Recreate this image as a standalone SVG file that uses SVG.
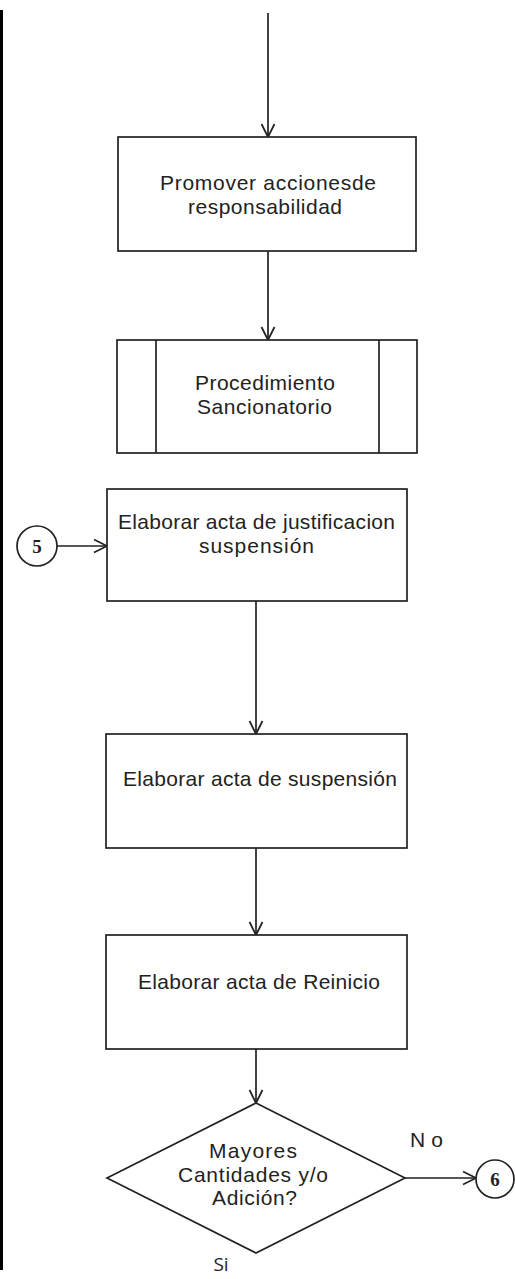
<svg xmlns="http://www.w3.org/2000/svg" width="515" height="1279" viewBox="0 0 515 1279">
<style>
.shape{fill:#fff;stroke:#222;stroke-width:1.7}
.line{fill:none;stroke:#222;stroke-width:1.7}
.lbl{font-family:"Liberation Sans",Arial,sans-serif;font-size:21px;fill:#222;text-anchor:middle}
.num{font-family:"Liberation Serif","Times New Roman",serif;font-size:19px;font-weight:bold;fill:#222;text-anchor:middle}
.si{font-family:"Open Sans","Noto Sans",sans-serif;font-size:19px;fill:#222;text-anchor:middle}
</style>
<defs>
<marker id="arr" markerUnits="userSpaceOnUse" markerWidth="16" markerHeight="16" viewBox="0 0 16 16" refX="14" refY="8" orient="auto">
<path d="M1,1.5 L14,8 L1,14.5" fill="none" stroke="#222" stroke-width="1.7"/>
</marker>
</defs>
<rect x="0" y="10" width="3" height="1260" fill="#000"/>
<g id="connectors">
<line class="line" x1="268" y1="13" x2="268" y2="137" marker-end="url(#arr)"/>
<line class="line" x1="268" y1="251" x2="268" y2="340" marker-end="url(#arr)"/>
<line class="line" x1="57" y1="546" x2="107" y2="546" marker-end="url(#arr)"/>
<line class="line" x1="256" y1="601" x2="256" y2="734" marker-end="url(#arr)"/>
<line class="line" x1="256" y1="848" x2="256" y2="935" marker-end="url(#arr)"/>
<line class="line" x1="256" y1="1049" x2="256" y2="1103" marker-end="url(#arr)"/>
<line class="line" x1="405" y1="1178" x2="476" y2="1178" marker-end="url(#arr)"/>
</g>
<g id="promover">
<rect class="shape" x="118" y="137" width="298" height="114"/>
<text class="lbl" x="268" y="190" textLength="216" lengthAdjust="spacing">Promover accionesde</text>
<text class="lbl" x="265" y="214" textLength="154" lengthAdjust="spacing">responsabilidad</text>
</g>
<g id="procedimiento">
<rect class="shape" x="117" y="340" width="300" height="113"/>
<line class="line" x1="156" y1="340" x2="156" y2="453"/>
<line class="line" x1="379" y1="340" x2="379" y2="453"/>
<text class="lbl" x="265" y="390" textLength="140" lengthAdjust="spacing">Procedimiento</text>
<text class="lbl" x="264.5" y="414" textLength="135" lengthAdjust="spacing">Sancionatorio</text>
</g>
<g id="conector5">
<circle class="shape" cx="37" cy="546" r="20"/>
<text class="num" x="37" y="553">5</text>
</g>
<g id="justificacion">
<rect class="shape" x="107" y="489" width="300" height="112"/>
<text class="lbl" x="256.5" y="529" textLength="277" lengthAdjust="spacing">Elaborar acta de justificacion</text>
<text class="lbl" x="256.5" y="553" textLength="115" lengthAdjust="spacing">suspensión</text>
</g>
<g id="suspension">
<rect class="shape" x="106" y="734" width="301" height="114"/>
<text class="lbl" x="260" y="786" textLength="274" lengthAdjust="spacing">Elaborar acta de suspensión</text>
</g>
<g id="reinicio">
<rect class="shape" x="106" y="935" width="301" height="114"/>
<text class="lbl" x="259" y="989" textLength="242" lengthAdjust="spacing">Elaborar acta de Reinicio</text>
</g>
<g id="decision">
<polygon class="shape" points="256,1103 405,1178 256,1253 107,1178"/>
<text class="lbl" x="253" y="1158" textLength="88" lengthAdjust="spacing">Mayores</text>
<text class="lbl" x="253" y="1182" textLength="150" lengthAdjust="spacing">Cantidades y/o</text>
<text class="lbl" x="254.5" y="1205" textLength="85" lengthAdjust="spacing">Adición?</text>
</g>
<g id="labels">
<text class="lbl" x="426.5" y="1147" textLength="33" lengthAdjust="spacing">No</text>
<text class="si" x="221" y="1271">Si</text>
</g>
<g id="conector6">
<circle class="shape" cx="495" cy="1179" r="19"/>
<text class="num" x="495" y="1186">6</text>
</g>
</svg>
